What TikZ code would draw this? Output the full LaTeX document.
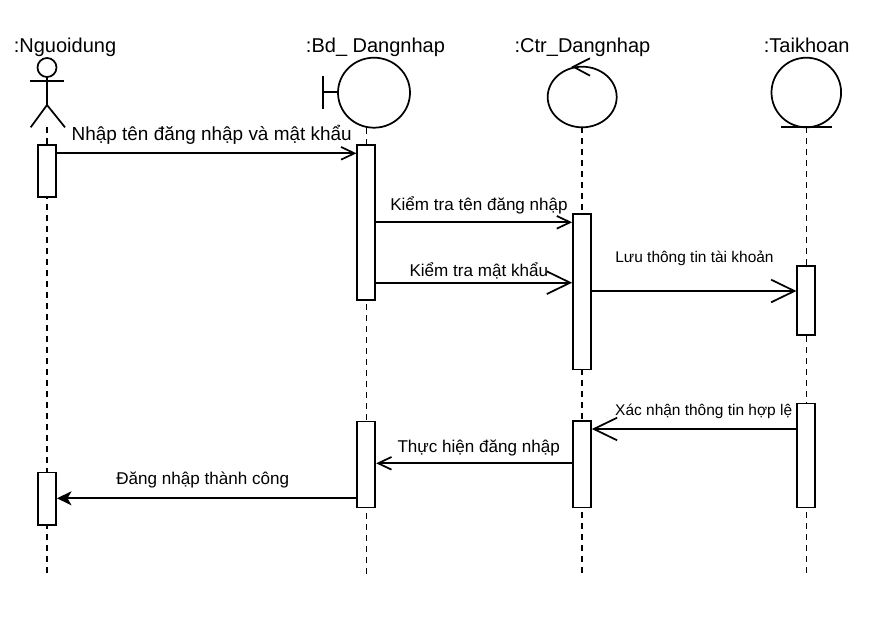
\documentclass[tikz,border=0pt]{standalone}
\usepackage{fontspec}
\setmainfont{Liberation Sans}
\usetikzlibrary{arrows.meta}
\begin{document}
\begin{tikzpicture}[x=0.75pt,y=-0.75pt,line width=1.3pt,
  title/.style={font=\fontsize{15}{18}\selectfont,anchor=base,inner sep=0pt},
  lblA/.style={font=\fontsize{14.2}{17}\selectfont,anchor=base,inner sep=0pt},
  lblB/.style={font=\fontsize{12.8}{15}\selectfont,anchor=base,inner sep=0pt},
  lblC/.style={font=\fontsize{11.6}{14}\selectfont,anchor=base,inner sep=0pt},
  life/.style={line width=1.2pt,dash pattern=on 4.5pt off 3.75pt},
  act/.style={draw,fill=white,anchor=north,inner sep=0pt,minimum width=13.5pt},
  msgS/.style={-{Straight Barb[length=10pt,width=9.5pt]}},
  msgL/.style={-{Straight Barb[length=17.5pt,width=17pt]}},
  msgF/.style={-{Stealth[length=11pt,width=10.5pt,inset=3pt]}}]
\useasboundingbox (0,0) rectangle (883,619);
\fill[white] (0,0) rectangle (883,619);

% titles
\node[title] (tU) at (65,52.3) {:Nguoidung};
\node[title] (tB) at (375.5,52.3) {:Bd\_ Dangnhap};
\node[title] (tC) at (582.5,52.3) {:Ctr\_Dangnhap};
\node[title] (tT) at (806.7,52.3) {:Taikhoan};

% lifeline ends
\coordinate (uTop) at (47,127.3);   \coordinate (uBot) at (47,576);
\coordinate (bTop) at (366.3,128);  \coordinate (bBot) at (366.3,576);
\coordinate (cTop) at (582.2,127.3);\coordinate (cBot) at (582.2,576);
\coordinate (kTop) at (806.3,127.3);\coordinate (kBot) at (806.3,576);
\draw[life] (uTop) -- (uBot);
\draw[life] (bTop) -- (bBot);
\draw[life] (cTop) -- (cBot);
\draw[life] (kTop) -- (kBot);

% actor
\draw (47,67.5) circle[radius=9.5];
\draw (47,77) -- (47,105);
\draw (30,81) -- (64.3,81);
\draw (30.7,127.3) -- (47,105) -- (65,127.3);

% boundary
\draw (323,75.7) -- (323,109.3);
\draw (323,91.7) -- (338,91.7);
\draw (374,92.7) ellipse[x radius=36,y radius=35];

% control
\draw (582.2,97) ellipse[x radius=34.5,y radius=30.3];
\draw (590,58.3) -- (573.3,66.7) -- (590,75.7);

% entity
\draw (806.3,92.5) circle[radius=34.8];
\draw (781,127.3) -- (832.3,127.3);

% activations
\node[act,minimum height=39pt]    (u1) at (47,144) {};
\node[act,minimum height=39.4pt]  (u2) at (47,471.7) {};
\node[act,minimum height=116.2pt] (b1) at (366.3,144) {};
\node[act,minimum height=64.5pt]  (b2) at (366.3,420.5) {};
\node[act,minimum height=116.5pt] (c1) at (582,213.3) {};
\node[act,minimum height=65pt]    (c2) at (582,420) {};
\node[act,minimum height=51.8pt]  (k1) at (806.3,265.3) {};
\node[act,minimum height=78pt]    (k2) at (806.3,402.7) {};

% message levels
\coordinate (m1) at (0,153.3);
\coordinate (m2) at (0,222.3);
\coordinate (m3) at (0,282.7);
\coordinate (m4) at (0,291);
\coordinate (m5) at (0,429);
\coordinate (m6) at (0,463.3);
\coordinate (m7) at (0,498.3);

\draw[msgS] (u1.east |- m1) -- (b1.west |- m1);
\draw[msgS] (b1.east |- m2) -- (c1.west |- m2);
\draw[msgL] (b1.east |- m3) -- (c1.west |- m3);
\draw[msgL] (c1.east |- m4) -- (k1.west |- m4);
\draw[msgL] (k2.west |- m5) -- (c2.east |- m5);
\draw[msgS] (c2.west |- m6) -- (b2.east |- m6);
\draw[msgF] (b2.west |- m7) -- (u2.east |- m7);

% labels
\node[lblA] (l1) at (211.7,140.7) {Nhập tên đăng nhập và mật khẩu};
\node[lblB] (l2) at (479,210) {Kiểm tra tên đăng nhập};
\node[lblB] (l3) at (478.8,276.7) {Kiểm tra mật khẩu};
\node[lblC] (l4) at (694.5,262.7) {Lưu thông tin tài khoản};
\node[lblC] (l5) at (703.7,415) {Xác nhận thông tin hợp lệ};
\node[lblB] (l6) at (478.7,452.7) {Thực hiện đăng nhập};
\node[lblB] (l7) at (202.7,484.3) {Đăng nhập thành công};
\end{tikzpicture}
\end{document}
